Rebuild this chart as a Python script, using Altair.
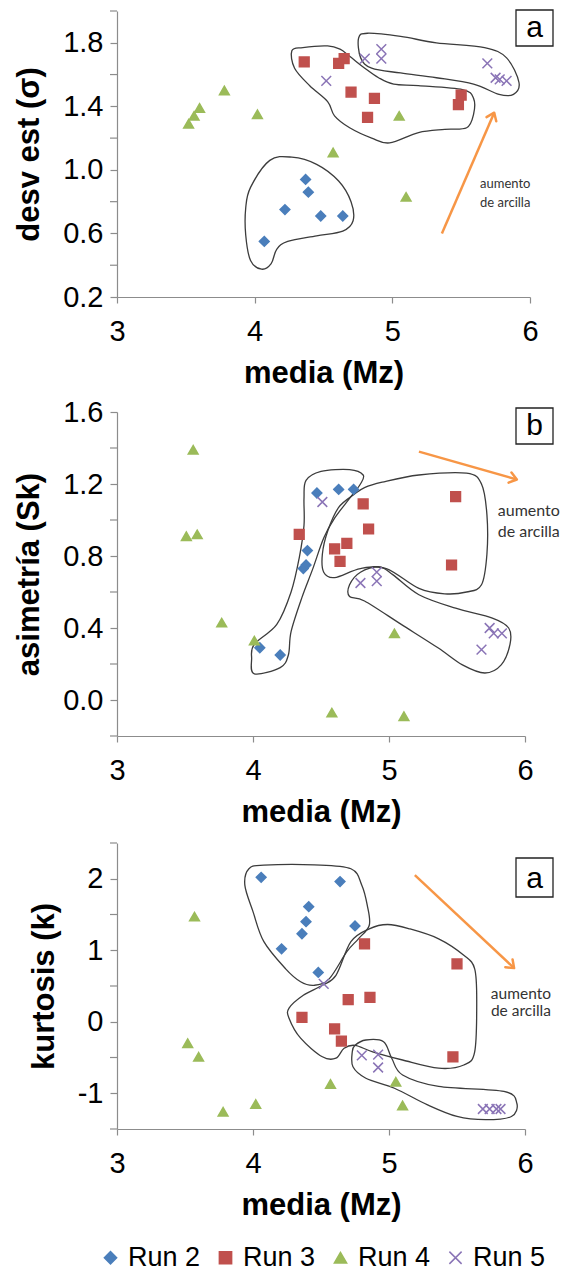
import math
import altair as alt
import pandas as pd

# ---------------- data ----------------
runs = ["Run 2", "Run 3", "Run 4", "Run 5"]
run_colors = ["#4a7ebb", "#c0504d", "#9bbb59", "#8a74b6"]
run_shapes = ["diamond", "square", "triangle-up", "M-1,-1L1,1M-1,1L1,-1"]

x_ticks = [3, 4, 5, 6]

# panel a : desviación estándar vs media
desv_media = {
    "Run 2": [4.07, 4.22, 4.37, 4.39, 4.48, 4.64],
    "Run 3": [4.36, 4.61, 4.65, 4.70, 4.87, 4.82, 5.48, 5.50],
    "Run 4": [3.52, 3.56, 3.60, 3.78, 4.02, 4.57, 5.05, 5.10],
    "Run 5": [4.52, 4.80, 4.92, 4.92, 5.69, 5.75, 5.78, 5.83],
}
desv_vals = {
    "Run 2": [0.55, 0.75, 0.94, 0.86, 0.71, 0.71],
    "Run 3": [1.68, 1.67, 1.70, 1.49, 1.45, 1.33, 1.41, 1.47],
    "Run 4": [1.29, 1.34, 1.39, 1.50, 1.35, 1.11, 1.34, 0.83],
    "Run 5": [1.56, 1.70, 1.76, 1.70, 1.67, 1.58, 1.57, 1.56],
}
desv_labels = [0.2, 0.6, 1.0, 1.4, 1.8]
desv_minor = [0.4, 0.8, 1.2, 1.6, 2.0]

# panel b : asimetría vs media
asim_media = {
    "Run 2": [4.47, 4.63, 4.74, 4.40, 4.37, 4.39, 4.05, 4.20],
    "Run 3": [4.34, 4.81, 4.85, 5.49, 4.60, 4.69, 4.64, 5.46],
    "Run 4": [3.56, 3.51, 3.59, 3.77, 4.01, 4.58, 5.04, 5.11],
    "Run 5": [4.51, 4.79, 4.91, 4.91, 5.68, 5.74, 5.77, 5.83],
}
asim_vals = {
    "Run 2": [1.15, 1.17, 1.17, 0.83, 0.73, 0.75, 0.29, 0.25],
    "Run 3": [0.92, 1.09, 0.95, 1.13, 0.84, 0.87, 0.77, 0.75],
    "Run 4": [1.39, 0.91, 0.92, 0.43, 0.33, -0.07, 0.37, -0.09],
    "Run 5": [1.10, 0.65, 0.71, 0.66, 0.28, 0.40, 0.37, 0.37],
}
asim_labels = [0.0, 0.4, 0.8, 1.2, 1.6]
asim_minor = [-0.2, 0.2, 0.6, 1.0, 1.4]

# panel c : kurtosis vs media
kurt_media = {
    "Run 2": [4.06, 4.64, 4.41, 4.39, 4.36, 4.21, 4.48, 4.75],
    "Run 3": [4.82, 5.50, 4.86, 4.70, 4.36, 4.60, 4.65, 5.47],
    "Run 4": [3.57, 3.52, 3.60, 3.78, 4.02, 4.57, 5.05, 5.10],
    "Run 5": [4.52, 4.80, 4.92, 4.92, 5.69, 5.74, 5.79, 5.82],
}
kurt_vals = {
    "Run 2": [2.02, 1.96, 1.61, 1.40, 1.23, 1.02, 0.69, 1.34],
    "Run 3": [1.09, 0.81, 0.34, 0.31, 0.06, -0.10, -0.27, -0.49],
    "Run 4": [1.47, -0.30, -0.49, -1.26, -1.15, -0.87, -0.84, -1.17],
    "Run 5": [0.53, -0.47, -0.46, -0.64, -1.22, -1.22, -1.22, -1.22],
}
kurt_labels = [-1, 0, 1, 2]
kurt_minor = [-1.5, -0.5, 0.5, 1.5, 2.5]

# hand-drawn group outlines (media, value)
outline_a_run2 = [(3.935, 0.76), (3.97, 0.89), (4.11, 1.06), (4.27, 1.08), (4.45, 1.035),
                  (4.61, 0.93), (4.70, 0.80), (4.715, 0.68), (4.64, 0.615), (4.45, 0.585),
                  (4.24, 0.55), (4.16, 0.50), (4.12, 0.41), (4.05, 0.375), (3.97, 0.43), (3.935, 0.59)]
outline_a_run3 = [(4.27, 1.75), (4.35, 1.77), (4.53, 1.78), (4.62, 1.76), (4.69, 1.715),
                  (4.80, 1.64), (4.90, 1.58), (5.01, 1.54), (5.19, 1.53), (5.51, 1.505),
                  (5.59, 1.45), (5.59, 1.35), (5.54, 1.265), (5.38, 1.255), (5.19, 1.235),
                  (4.98, 1.17), (4.85, 1.20), (4.69, 1.265), (4.58, 1.34), (4.53, 1.43),
                  (4.40, 1.53), (4.29, 1.64)]
outline_a_run5 = [(4.755, 1.83), (4.82, 1.86), (5.06, 1.84), (5.32, 1.80), (5.67, 1.77),
                  (5.83, 1.705), (5.92, 1.55), (5.88, 1.475), (5.775, 1.475), (5.59, 1.54),
                  (5.32, 1.58), (5.06, 1.61), (4.85, 1.64), (4.77, 1.705)]

outline_b_run2 = [(4.39, 1.22), (4.50, 1.27), (4.71, 1.28), (4.81, 1.25), (4.79, 1.20),
                  (4.71, 1.12), (4.60, 1.01), (4.52, 0.90), (4.44, 0.73), (4.36, 0.57),
                  (4.28, 0.38), (4.26, 0.25), (4.20, 0.18), (4.01, 0.145), (3.99, 0.23),
                  (4.01, 0.31), (4.175, 0.42), (4.28, 0.60), (4.34, 0.79), (4.375, 0.97), (4.375, 1.12)]
outline_b_run3 = [(4.82, 1.18), (4.95, 1.21), (5.22, 1.25), (5.57, 1.26), (5.68, 1.20),
                  (5.72, 1.03), (5.72, 0.81), (5.68, 0.64), (5.57, 0.60), (5.41, 0.59),
                  (5.22, 0.62), (4.98, 0.73), (4.79, 0.73), (4.60, 0.68), (4.52, 0.71),
                  (4.51, 0.81), (4.55, 0.94), (4.63, 1.07), (4.74, 1.14)]
outline_b_run5 = [(4.71, 0.64), (4.79, 0.71), (4.93, 0.74), (5.03, 0.695), (5.22, 0.585),
                  (5.49, 0.51), (5.76, 0.455), (5.88, 0.40), (5.89, 0.31), (5.825, 0.195),
                  (5.705, 0.15), (5.54, 0.195), (5.36, 0.29), (5.09, 0.42), (4.82, 0.55), (4.71, 0.575)]

outline_c_run2 = [(3.94, 1.91), (3.97, 2.14), (4.08, 2.19), (4.45, 2.195), (4.72, 2.14),
                  (4.80, 1.91), (4.84, 1.63), (4.855, 1.35), (4.775, 1.16), (4.69, 0.98),
                  (4.56, 0.60), (4.45, 0.51), (4.35, 0.56), (4.24, 0.74), (4.08, 1.12), (4.00, 1.54)]
outline_c_run3 = [(4.72, 1.12), (4.855, 1.30), (4.99, 1.36), (5.15, 1.30), (5.365, 1.16),
                  (5.55, 0.93), (5.63, 0.74), (5.645, 0.28), (5.63, -0.42), (5.55, -0.605),
                  (5.365, -0.65), (5.10, -0.535), (4.88, -0.42), (4.75, -0.33), (4.67, -0.37),
                  (4.61, -0.51), (4.51, -0.49), (4.35, -0.23), (4.265, 0.05), (4.265, 0.19),
                  (4.37, 0.37), (4.51, 0.51), (4.61, 0.65)]
outline_c_run5 = [(4.73, -0.42), (4.75, -0.33), (4.83, -0.255), (4.96, -0.28), (5.02, -0.51),
                  (5.10, -0.745), (5.365, -0.905), (5.845, -0.975), (5.94, -1.14), (5.90, -1.325),
                  (5.71, -1.37), (5.50, -1.325), (5.28, -1.16), (5.04, -0.93), (4.83, -0.79), (4.735, -0.63)]

# orange trend arrows (start, end)
arrow_a = [(5.36, 0.60), (5.74, 1.36)]
arrow_b = [(5.22, 1.38), (5.94, 1.225)]
arrow_c = [(5.19, 2.05), (5.92, 0.75)]

note_lines = ["aumento", "de arcilla"]
note_a_pos = [(5.82, 0.91), (5.82, 0.79)]
note_b_pos = [(5.80, 1.05), (5.80, 0.935)]
note_c_pos = [(5.97, 0.39), (5.97, 0.155)]

ORANGE = "#f79646"
AXIS_GREY = "#8c8c8c"
FONT = "Liberation Sans"


def points_df(xs, ys):
    rows = []
    for run in runs:
        for x, y in zip(xs[run], ys[run]):
            rows.append({"run": run, "x": x, "y": y})
    return pd.DataFrame(rows)


def outline_df(blobs):
    rows = []
    for b, pts in enumerate(blobs):
        for i, (x, y) in enumerate(pts):
            rows.append({"blob": b, "i": i, "x": x, "y": y})
    return pd.DataFrame(rows)


def panel(pts, blobs, arrow, note_pos, note_size, note_align, tag, tag_box,
          ytitle, ydom, ylabels, yminor, ylabel_expr, w, h):
    xs = alt.Scale(domain=[3, 6], nice=False, zero=False)
    ys = alt.Scale(domain=ydom, nice=False, zero=False)
    xax = alt.Axis(values=x_ticks, format="d", labelFlush=False, labelOverlap=False,
                   tickSize=6, labelPadding=14, titlePadding=12)
    yax = alt.Axis(values=ylabels, labelExpr=ylabel_expr, labelOverlap=False,
                   tickSize=7, labelPadding=7, titlePadding=17)
    X = alt.X("x:Q", scale=xs, axis=xax, title="media (Mz)")
    Y = alt.Y("y:Q", scale=ys, axis=yax, title=ytitle)

    outl = alt.Chart(outline_df(blobs)).mark_line(
        interpolate="cardinal-closed", color="#3c3c3c", strokeWidth=1.3
    ).encode(x=X, y=Y, detail="blob:N", order="i:Q")

    # unlabelled minor ticks on the y axis
    minor = alt.Chart(pd.DataFrame({"y": yminor})).mark_rule(
        color=AXIS_GREY, strokeWidth=1.2
    ).encode(x=alt.value(-7), x2=alt.value(0), y=Y)

    color_scale = alt.Scale(domain=runs, range=run_colors)
    legend = alt.Legend(title=None, orient="none", direction="horizontal",
                        legendX=-20, legendY=1233,
                        labelFontSize=27, labelFont=FONT, symbolSize=150,
                        symbolStrokeWidth=1.5, labelOffset=4, columnPadding=11)
    pts_layer = alt.Chart(pts).mark_point(
        filled=True, size=95, strokeWidth=1.5, opacity=1
    ).encode(
        x=X, y=Y,
        color=alt.Color("run:N", scale=color_scale, legend=legend),
        stroke=alt.Stroke("run:N", scale=color_scale, legend=legend),
        shape=alt.Shape("run:N", scale=alt.Scale(domain=runs, range=run_shapes), legend=legend),
    )

    (x1, y1), (x2, y2) = arrow
    arr_df = pd.DataFrame([{"x": x1, "y": y1, "x2": x2, "y2": y2}])
    arr = alt.Chart(arr_df).mark_rule(color=ORANGE, strokeWidth=2.5).encode(
        x=X, y=Y, x2="x2:Q", y2="y2:Q")
    dx = (x2 - x1) / 3.0 * w
    dy = -(y2 - y1) / (ydom[1] - ydom[0]) * h
    ang = math.degrees(math.atan2(dy, dx)) % 360
    head_df = pd.DataFrame([{"x": x2, "y": y2}])
    head = alt.Chart(head_df).mark_point(
        shape="M-1,-0.75L0,0L-1,0.75", filled=False, size=200, strokeWidth=2.5,
        color=ORANGE, opacity=1, angle=ang, strokeCap="round", strokeJoin="round"
    ).encode(x=X, y=Y)

    note_df = pd.DataFrame([{"x": p[0], "y": p[1], "t": t} for p, t in zip(note_pos, note_lines)])
    note = alt.Chart(note_df).mark_text(
        font="Lato", fontSize=note_size, align=note_align, baseline="middle", color="#333333"
    ).encode(x=X, y=Y, text="t:N")

    bx0, bx1, by0, by1 = tag_box
    tag_df = pd.DataFrame([{"t": tag}])
    box = alt.Chart(tag_df).mark_rect(fill="white", stroke="#222222", strokeWidth=1.3).encode(
        x=alt.value(bx0), x2=alt.value(bx1), y=alt.value(by0), y2=alt.value(by1))
    tag_txt = alt.Chart(tag_df).mark_text(
        font=FONT, fontSize=30, align="center", baseline="alphabetic", color="black"
    ).encode(x=alt.value((bx0 + bx1) / 2), y=alt.value(by1 - 9), text="t:N")

    return alt.layer(outl, minor, arr, head, pts_layer, note, box, tag_txt).properties(width=w, height=h)


p1 = panel(points_df(desv_media, desv_vals),
           [outline_a_run2, outline_a_run3, outline_a_run5],
           arrow_a, note_a_pos, 13, "center", "a", (399, 436, -1, 35),
           "desv est (σ)", [0.2, 2.0], desv_labels, desv_minor,
           "format(datum.value, '.1f')",
           413, 286)
p2 = panel(points_df(asim_media, asim_vals),
           [outline_b_run2, outline_b_run3, outline_b_run5],
           arrow_b, note_b_pos, 16, "left", "b", (399, 436, -4, 32),
           "asimetría (Sk)", [-0.2, 1.6], asim_labels, asim_minor,
           "format(datum.value, '.1f')",
           408, 324)
p3 = panel(points_df(kurt_media, kurt_vals),
           [outline_c_run2, outline_c_run3, outline_c_run5],
           arrow_c, note_c_pos, 15.5, "center", "a", (399, 436, 15, 54),
           "kurtosis (k)", [-1.5, 2.5], kurt_labels, kurt_minor,
           "'' + datum.value",
           408, 286)

chart = alt.vconcat(alt.vconcat(p1, p2, spacing=10), p3, spacing=15).properties(
    padding={"left": 5, "top": 1, "right": 0, "bottom": 0}
).configure_axis(
    domainColor=AXIS_GREY, tickColor=AXIS_GREY, labelColor="black", titleColor="black",
    labelFont=FONT, titleFont=FONT, labelFontSize=29, titleFontSize=31,
    titleFontWeight="bold", grid=False, domainWidth=1.2, tickWidth=1.2
).configure_view(stroke=None)

chart.save("out.html", embed_options={"renderer": "svg", "actions": False})
